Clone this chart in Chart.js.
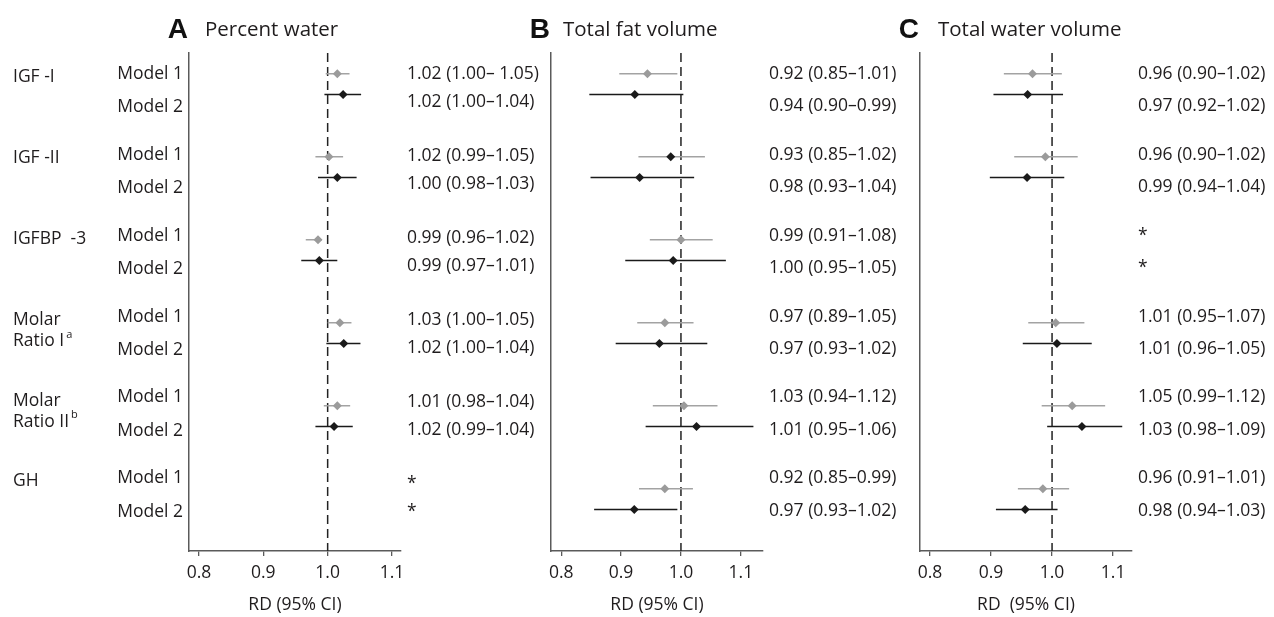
<!DOCTYPE html>
<html>
<head>
<meta charset="utf-8">
<title>RD forest plots</title>
<script src="https://cdn.jsdelivr.net/npm/chart.js@4/dist/chart.umd.min.js"></script>
<style>
    body { margin: 0; background: #ffffff; }
    #wrap { position: relative; width: 1274px; height: 617px; }
    #wrap canvas { position: absolute; left: 0; top: 0; }
</style>
</head>
<body>
<div id="wrap">
    <canvas id="panelA" width="1274" height="617"></canvas>
    <canvas id="panelB" width="1274" height="617"></canvas>
    <canvas id="panelC" width="1274" height="617"></canvas>
</div>
<script>
// Row labels
let groupNames = ["IGF -I", "IGF -II", "IGFBP  -3", ["Molar", "Ratio I"], ["Molar", "Ratio II"], "GH"];
let groupSup = ["", "", "", "a", "b", ""];
let modelNames = ["Model 1", "Model 2"];
let xTicks = [0.8, 0.9, 1.0, 1.1];
let refValue = 1.0;

// Rows are IGF-I M1, IGF-I M2, IGF-II M1, ... GH M2 (null = not plotted)
// A: Percent water
let aEst  = [1.015, 1.024, 1.002, 1.015, 0.985, 0.987, 1.019, 1.025, 1.015, 1.010, null, null];
let aLow  = [0.997, 0.995, 0.981, 0.985, 0.966, 0.959, 1.000, 0.998, 0.994, 0.981, null, null];
let aHigh = [1.034, 1.052, 1.024, 1.045, 0.991, 1.015, 1.037, 1.051, 1.035, 1.039, null, null];
let aText = ["1.02 (1.00\u2013 1.05)", "1.02 (1.00\u20131.04)", "1.02 (0.99\u20131.05)", "1.00 (0.98\u20131.03)",
             "0.99 (0.96\u20131.02)", "0.99 (0.97\u20131.01)", "1.03 (1.00\u20131.05)", "1.02 (1.00\u20131.04)",
             "1.01 (0.98\u20131.04)", "1.02 (0.99\u20131.04)", "*", "*"];

// B: Total fat volume
let bEst  = [0.944, 0.923, 0.983, 0.931, 1.000, 0.987, 0.973, 0.964, 1.005, 1.026, 0.973, 0.922];
let bLow  = [0.897, 0.847, 0.929, 0.849, 0.948, 0.907, 0.927, 0.891, 0.953, 0.941, 0.930, 0.855];
let bHigh = [0.994, 1.004, 1.040, 1.022, 1.053, 1.075, 1.021, 1.044, 1.061, 1.121, 1.020, 0.994];
let bText = ["0.92 (0.85\u20131.01)", "0.94 (0.90\u20130.99)", "0.93 (0.85\u20131.02)", "0.98 (0.93\u20131.04)",
             "0.99 (0.91\u20131.08)", "1.00 (0.95\u20131.05)", "0.97 (0.89\u20131.05)", "0.97 (0.93\u20131.02)",
             "1.03 (0.94\u20131.12)", "1.01 (0.95\u20131.06)", "0.92 (0.85\u20130.99)", "0.97 (0.93\u20131.02)"];

// C: Total water volume
let cEst  = [0.968, 0.960, 0.989, 0.959, null, null, 1.006, 1.008, 1.033, 1.049, 0.985, 0.956];
let cLow  = [0.921, 0.904, 0.938, 0.898, null, null, 0.961, 0.952, 0.983, 0.992, 0.944, 0.908];
let cHigh = [1.016, 1.018, 1.042, 1.020, null, null, 1.053, 1.065, 1.087, 1.115, 1.028, 1.009];
let cText = ["0.96 (0.90\u20131.02)", "0.97 (0.92\u20131.02)", "0.96 (0.90\u20131.02)", "0.99 (0.94\u20131.04)",
             "*", "*", "1.01 (0.95\u20131.07)", "1.01 (0.96\u20131.05)",
             "1.05 (0.99\u20131.12)", "1.03 (0.98\u20131.09)", "0.96 (0.91\u20131.01)", "0.98 (0.94\u20131.03)"];

const FONT = "'Open Sans', sans-serif";
const TEXT = "#1f1c1d";
const GREY = "#a3a3a3";
const DARK = "#1a1a1a";
const AXIS = "#5a5a5a";

// Text rows drift a little from the marker rows in the original figure
function textY(scale, g, m, pitch, sub) {
    return scale.getPixelForValue(g * pitch + m * sub);
}

const textPlugin = {
    id: "forestText",
    afterDraw(chart) {
        const p = chart.options.plugins.forestText;
        const ctx = chart.ctx;
        const area = chart.chartArea;
        const ys = chart.scales.y;
        ctx.save();

        // panel title
        ctx.textBaseline = "alphabetic";
        ctx.fillStyle = "#111";
        ctx.font = "bold 28px 'Liberation Sans', sans-serif";
        ctx.textAlign = "right";
        ctx.fillText(p.letter, area.left - 1, 38);
        ctx.font = "20.5px " + FONT;
        ctx.fillStyle = TEXT;
        ctx.textAlign = "left";
        ctx.fillText(p.title, area.left + p.titleGap, 36);

        // value column
        ctx.font = "17.5px " + FONT;
        ctx.textBaseline = "middle";
        for (let i = 0; i < p.text.length; i++) {
            let g = Math.floor(i / 2);
            let m = i % 2;
            ctx.fillText(p.text[i], area.right + 6, textY(ys, g, m, p.pitch, p.sub));
        }

        // row labels only on the first panel
        if (p.rowLabels) {
            for (let g = 0; g < groupNames.length; g++) {
                let lines = Array.isArray(groupNames[g]) ? groupNames[g] : [groupNames[g]];
                ctx.textAlign = "left";
                for (let k = 0; k < lines.length; k++) {
                    let y = ys.getPixelForValue(g * 3.9 + 0.15 + k * 1.05);
                    ctx.font = "17.5px " + FONT;
                    ctx.fillText(lines[k], 13, y);
                    if (k == lines.length - 1 && groupSup[g]) {
                        let w = ctx.measureText(lines[k]).width;
                        ctx.font = "11px " + FONT;
                        ctx.fillText(groupSup[g], 13 + w + 2, y - 7);
                    }
                }
                ctx.font = "17.5px " + FONT;
                ctx.textAlign = "right";
                for (let m = 0; m < modelNames.length; m++) {
                    ctx.fillText(modelNames[m], area.left - 6, textY(ys, g, m, 3.9, 1.6));
                }
            }
        }
        ctx.restore();
    }
};

function rowPos(i) {
    return Math.floor(i / 2) * 4 + (i % 2);
}

function ciData(est, low, high, m) {
    let out = [];
    for (let i = m; i < est.length; i += 2) {
        if (est[i] === null) continue;
        out.push({x: low[i], y: rowPos(i)}, {x: high[i], y: rowPos(i)}, {x: null, y: rowPos(i)});
    }
    return out;
}

function pointData(est, m) {
    let out = [];
    for (let i = m; i < est.length; i += 2) {
        if (est[i] === null) continue;
        out.push({x: est[i], y: rowPos(i)});
    }
    return out;
}

function makePanel(id, cfg) {
    let darkM1 = cfg.darkM1 || [];
    new Chart(document.getElementById(id), {
        type: "scatter",
        data: {
            datasets: [
                {
                    label: "Model 2",
                    data: pointData(cfg.est, 1),
                    pointStyle: "rectRot",
                    pointRadius: 4.5,
                    pointBorderWidth: 0,
                    pointBackgroundColor: DARK
                },
                {
                    label: "Model 1",
                    data: pointData(cfg.est, 0),
                    pointStyle: "rectRot",
                    pointRadius: 4.5,
                    pointBorderWidth: 0,
                    pointBackgroundColor: (c) => darkM1.includes(c.raw ? Math.floor(c.raw.y / 4) : -1) ? DARK : "#9b9b9b"
                },
                {
                    type: "line",
                    data: ciData(cfg.est, cfg.low, cfg.high, 1),
                    borderColor: DARK,
                    borderWidth: 1.5,
                    pointRadius: 0,
                    spanGaps: false
                },
                {
                    type: "line",
                    data: ciData(cfg.est, cfg.low, cfg.high, 0),
                    borderColor: GREY,
                    borderWidth: 1.5,
                    pointRadius: 0,
                    spanGaps: false
                },
                {
                    type: "line",
                    data: [{x: refValue, y: -1}, {x: refValue, y: 23}],
                    borderColor: "#222",
                    borderWidth: 1.5,
                    borderDash: [9, 5],
                    pointRadius: 0
                }
            ]
        },
        options: {
            responsive: false,
            animation: false,
            devicePixelRatio: 1,
            clip: false,
            layout: {
                padding: {left: cfg.left, right: 1274 - cfg.right, top: 53, bottom: 0}
            },
            plugins: {
                legend: { display: false },
                tooltip: { enabled: false },
                forestText: {
                    letter: cfg.letter,
                    title: cfg.title,
                    titleGap: cfg.titleGap,
                    text: cfg.text,
                    pitch: cfg.pitch,
                    sub: cfg.sub,
                    rowLabels: cfg.rowLabels
                }
            },
            scales: {
                x: {
                    type: "linear",
                    position: "bottom",
                    min: cfg.min,
                    max: cfg.max,
                    afterBuildTicks: (s) => { s.ticks = xTicks.map(v => ({value: v})); },
                    afterFit: (s) => { s.height = 66; },
                    grid: { drawOnChartArea: false, drawTicks: true, tickLength: 5, color: AXIS, lineWidth: 1.3 },
                    border: { display: true, color: AXIS, width: 1.5 },
                    ticks: {
                        padding: 7,
                        maxRotation: 0,
                        autoSkip: false,
                        color: TEXT,
                        font: { family: FONT, size: 17.5 },
                        callback: (v) => v.toFixed(1)
                    },
                    title: {
                        display: true,
                        text: cfg.xTitle,
                        color: TEXT,
                        font: { family: FONT, size: 17.5 },
                        padding: { top: 0, bottom: 1 }
                    }
                },
                y: {
                    type: "linear",
                    min: -1,
                    max: 23,
                    reverse: true,
                    afterFit: (s) => { s.width = 0; },
                    ticks: { display: false },
                    grid: { display: false },
                    border: { display: true, color: AXIS, width: 1.5 }
                }
            }
        },
        plugins: [textPlugin]
    });
}

makePanel("panelA", {
    letter: "A", title: "Percent water", titleGap: 16,
    est: aEst, low: aLow, high: aHigh, text: aText,
    left: 189, right: 401, min: 0.7845, max: 1.114,
    pitch: 3.95, sub: 1.35, rowLabels: true, xTitle: "RD (95% CI)"
});

makePanel("panelB", {
    letter: "B", title: "Total fat volume", titleGap: 12,
    est: bEst, low: bLow, high: bHigh, text: bText, darkM1: [1],
    left: 551, right: 763, min: 0.783, max: 1.137,
    pitch: 3.9, sub: 1.55, rowLabels: false, xTitle: "RD (95% CI)"
});

makePanel("panelC", {
    letter: "C", title: "Total water volume", titleGap: 18,
    est: cEst, low: cLow, high: cHigh, text: cText,
    left: 920, right: 1132, min: 0.7836, max: 1.131,
    pitch: 3.9, sub: 1.55, rowLabels: false, xTitle: "RD  (95% CI)"
});
</script>
</body>
</html>
